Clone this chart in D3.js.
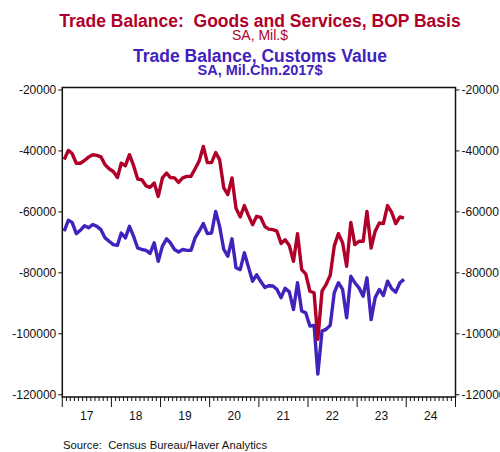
<!DOCTYPE html>
<html>
<head>
<meta charset="utf-8">
<script src="https://cdn.jsdelivr.net/npm/d3@7"></script>
<style>
  body { margin: 0; background: #fff; }
  svg { font-family: "Liberation Sans", Arial, sans-serif; }
</style>
</head>
<body>
<svg id="chart" width="500" height="452"></svg>
<script>
// monthly, Jan 2017 - Dec 2023, millions of $
let startYear = 2017;
let bopBalance = [
  -43000, -40000, -41000, -44200, -44200, -43300, -42200, -41400, -41600, -42100, -44700, -46000,
  -46900, -48900, -44200, -45000, -41400, -45000, -49400, -49600, -51600, -52100, -50700, -55100,
  -49000, -47400, -48900, -49000, -50500, -49000, -48500, -48500, -46000, -43500, -38700, -44000,
  -44000, -40700, -43000, -52300, -54500, -49000, -59000, -61800, -58100, -61300, -64350, -61600,
  -62000, -65000, -65800, -66000, -66500, -70500, -69300, -71200, -76400, -67300, -79100, -80500,
  -86200, -86700, -102000, -86200, -84000, -81000, -71400, -67300, -70300, -78000, -63600, -70900,
  -69800, -69800, -60000, -72000, -66500, -63800, -64000, -58100, -60300, -64000, -61800, -62200
];
let customsBalance = [
  -66500, -62900, -63600, -67300, -66200, -64700, -65400, -64300, -64900, -66000, -68700, -69800,
  -70900, -71100, -67100, -68700, -64900, -68200, -72000, -72500, -72800, -73800, -70300, -76400,
  -71400, -69000, -70300, -72500, -73300, -72500, -72800, -72800, -68700, -66500, -64000, -67300,
  -67100, -60000, -64900, -72500, -74700, -69000, -78500, -79100, -73600, -78200, -82900, -80800,
  -83000, -85000, -84400, -84500, -85600, -88300, -85200, -86400, -92200, -83400, -92700, -93300,
  -97600, -97400, -113400, -99300, -98700, -97400, -86700, -83400, -85600, -94900, -81300, -83400,
  -85100, -87800, -81800, -95500, -88300, -85600, -87600, -82900, -85400, -86500, -83400, -82300
];
let yTicks = [-20000, -40000, -60000, -80000, -100000, -120000];
let yearLabels = ["17", "18", "19", "20", "21", "22", "23", "24"];

let redColor = "#b0002a";
let blueColor = "#4122bd";

let plot = { left: 62.3, right: 455.5, top: 87.5, bottom: 397 };

let svg = d3.select("#chart");

let x = d3.scaleTime()
  .domain([new Date(2017, 0, 1), new Date(2025, 0, 1)])
  .range([plot.left, plot.right]);

let y = d3.scaleLinear()
  .domain([-120900, -19350])
  .range([plot.bottom, plot.top]);

const toPoints = (vals) => vals.map((v, i) => ({ date: new Date(startYear, i, 15), value: v }));

let line = d3.line()
  .x(d => x(d.date))
  .y(d => y(d.value));

// titles
let titles = [
  { text: "Trade Balance:  Goods and Services, BOP Basis", y: 27, size: 17.5, weight: "bold", color: redColor },
  { text: "SA, Mil.$", y: 39.5, size: 14, weight: "normal", color: redColor },
  { text: "Trade Balance, Customs Value", y: 62, size: 17.5, weight: "bold", color: blueColor },
  { text: "SA, Mil.Chn.2017$", y: 74.5, size: 14.5, weight: "bold", color: blueColor }
];
svg.selectAll(".title")
  .data(titles)
  .enter()
  .append("text")
  .attr("class", "title")
  .attr("x", 260)
  .attr("y", d => d.y)
  .attr("text-anchor", "middle")
  .attr("font-size", d => d.size)
  .attr("font-weight", d => d.weight)
  .attr("fill", d => d.color)
  .style("white-space", "pre")
  .text(d => d.text);

// lines
svg.append("path")
  .datum(toPoints(customsBalance))
  .attr("d", line)
  .attr("fill", "none")
  .attr("stroke", blueColor)
  .attr("stroke-width", 3.4)
  .attr("stroke-linejoin", "round");

svg.append("path")
  .datum(toPoints(bopBalance))
  .attr("d", line)
  .attr("fill", "none")
  .attr("stroke", redColor)
  .attr("stroke-width", 3.4)
  .attr("stroke-linejoin", "round");

// frame
svg.append("rect")
  .attr("x", plot.left)
  .attr("y", plot.top)
  .attr("width", plot.right - plot.left)
  .attr("height", plot.bottom - plot.top)
  .attr("fill", "none")
  .attr("stroke", "#111")
  .attr("stroke-width", 1.5);

// y axes
let leftAxis = svg.append("g")
  .attr("transform", `translate(${plot.left},0)`)
  .call(d3.axisLeft(y).tickValues(yTicks).tickSize(4).tickFormat(d => String(d)));
let rightAxis = svg.append("g")
  .attr("transform", `translate(${plot.right},0)`)
  .call(d3.axisRight(y).tickValues(yTicks).tickSize(4).tickFormat(d => String(d)));

[leftAxis, rightAxis].forEach(g => {
  g.select(".domain").remove();
  g.selectAll("line").attr("stroke", "#111");
  g.selectAll("text")
    .attr("font-family", "Liberation Sans, Arial, sans-serif")
    .attr("font-size", 12)
    .attr("fill", "#111");
});
leftAxis.selectAll("text").attr("x", -6);
rightAxis.selectAll("text").attr("x", 6);

// x axis: monthly minor ticks, yearly major ticks
let months = d3.timeMonth.range(new Date(2017, 0, 1), new Date(2025, 0, 2));
svg.append("g")
  .selectAll("line")
  .data(months)
  .enter()
  .append("line")
  .attr("x1", d => x(d))
  .attr("x2", d => x(d))
  .attr("y1", plot.bottom)
  .attr("y2", d => plot.bottom + (d.getMonth() === 0 ? 10 : 4))
  .attr("stroke", "#111")
  .attr("stroke-width", 1);

svg.append("g")
  .selectAll("text")
  .data(yearLabels)
  .enter()
  .append("text")
  .attr("x", (d, i) => x(new Date(startYear + i, 6, 1)))
  .attr("y", 420)
  .attr("text-anchor", "middle")
  .attr("font-size", 12)
  .attr("fill", "#111")
  .text(d => d);

svg.append("text")
  .attr("x", 63)
  .attr("y", 449)
  .attr("font-size", 11.3)
  .attr("fill", "#111")
  .style("white-space", "pre")
  .text("Source:  Census Bureau/Haver Analytics");
</script>
</body>
</html>
